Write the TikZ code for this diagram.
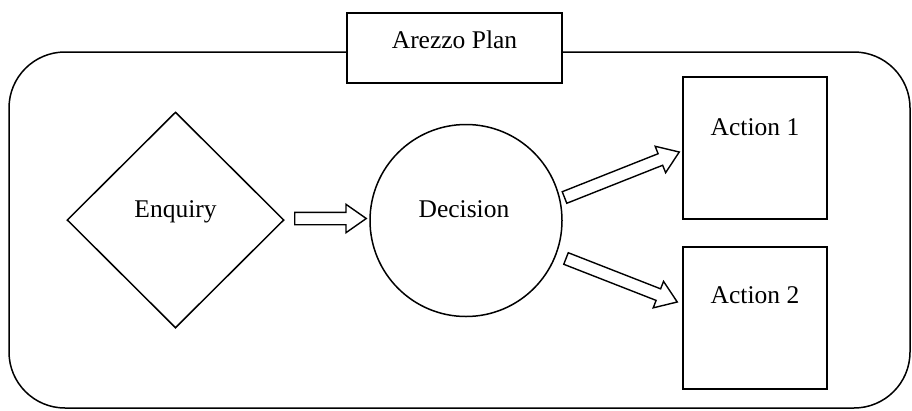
\documentclass[tikz,border=0pt]{standalone}
\usepackage{fontspec}
\setmainfont{Liberation Serif}
\usetikzlibrary{shapes.geometric}
\usetikzlibrary{shapes.arrows}
\usetikzlibrary{calc}
\usetikzlibrary{positioning}

\tikzset{
  shapebox/.style={draw, line width=1.5pt, inner sep=0pt},
  lbl/.style={anchor=base, inner sep=0pt, font=\fontsize{25.5}{30}\selectfont},
  blockarr/.style={single arrow, draw, line width=1.4pt, fill=white,
    inner xsep=0pt, inner ysep=5.5pt, text height=0pt, text depth=0pt, outer sep=0pt,
    single arrow head extend=8pt, single arrow tip angle=70,
    single arrow head indent=0pt},
}

% block arrow from #1 to #2, named #3
\newcommand{\blockarrow}[3]{%
  \path let \p1=(#1), \p2=(#2),
    \n1={atan2(\y2-\y1,\x2-\x1)}, \n2={veclen(\x2-\x1,\y2-\y1)} in
    node[blockarr, minimum height=\n2, rotate=\n1, anchor=tail] (#3) at (#1) {};}

\begin{document}
\begin{tikzpicture}[x=1pt, y=-1pt]
  \useasboundingbox (0,0) rectangle (912,410);

  % frame and title
  \node[shapebox, rounded corners=56pt, minimum width=901pt, minimum height=356pt] (plan) at (459.5,230) {};
  \node[shapebox, fill=white, minimum width=215pt, minimum height=70pt] (title) at (454.5,48) {};
  \node[lbl] (titletext) at (454.5,48) {Arezzo Plan};

  % shapes
  \node[shapebox, diamond, minimum width=217pt, minimum height=216pt] (enq) at (175.5,220) {};
  \node[shapebox, circle, minimum size=192pt] (dec) at (466,220.5) {};
  \node[shapebox, minimum width=144pt, minimum height=142pt] (act1) at (755,148) {};
  \node[shapebox, minimum width=144pt, minimum height=142pt] (act2) at (755,318) {};

  % texts
  \node[lbl] (enqtext) at (175.5,217) {Enquiry};
  \node[lbl] (dectext) at (464,217) {Decision};
  \node[lbl] (act1text) at (755,135) {Action 1};
  \node[lbl] (act2text) at (755,303) {Action 2};

  % arrows
  \coordinate (a1s) at ($(enq.east)+(10,-1.5)$);
  \coordinate (a1e) at ($(dec.west)+(-3,-2)$);
  \coordinate (a2s) at ($(dec.center)+(98.5,-23)$);
  \coordinate (a2e) at ($(act1.west)+(-3,4)$);
  \coordinate (a3s) at ($(dec.center)+(100,38)$);
  \coordinate (a3e) at ($(act2.west)+(-5,-16)$);
  \blockarrow{a1s}{a1e}{arr1}
  \blockarrow{a2s}{a2e}{arr2}
  \blockarrow{a3s}{a3e}{arr3}
\end{tikzpicture}
\end{document}
